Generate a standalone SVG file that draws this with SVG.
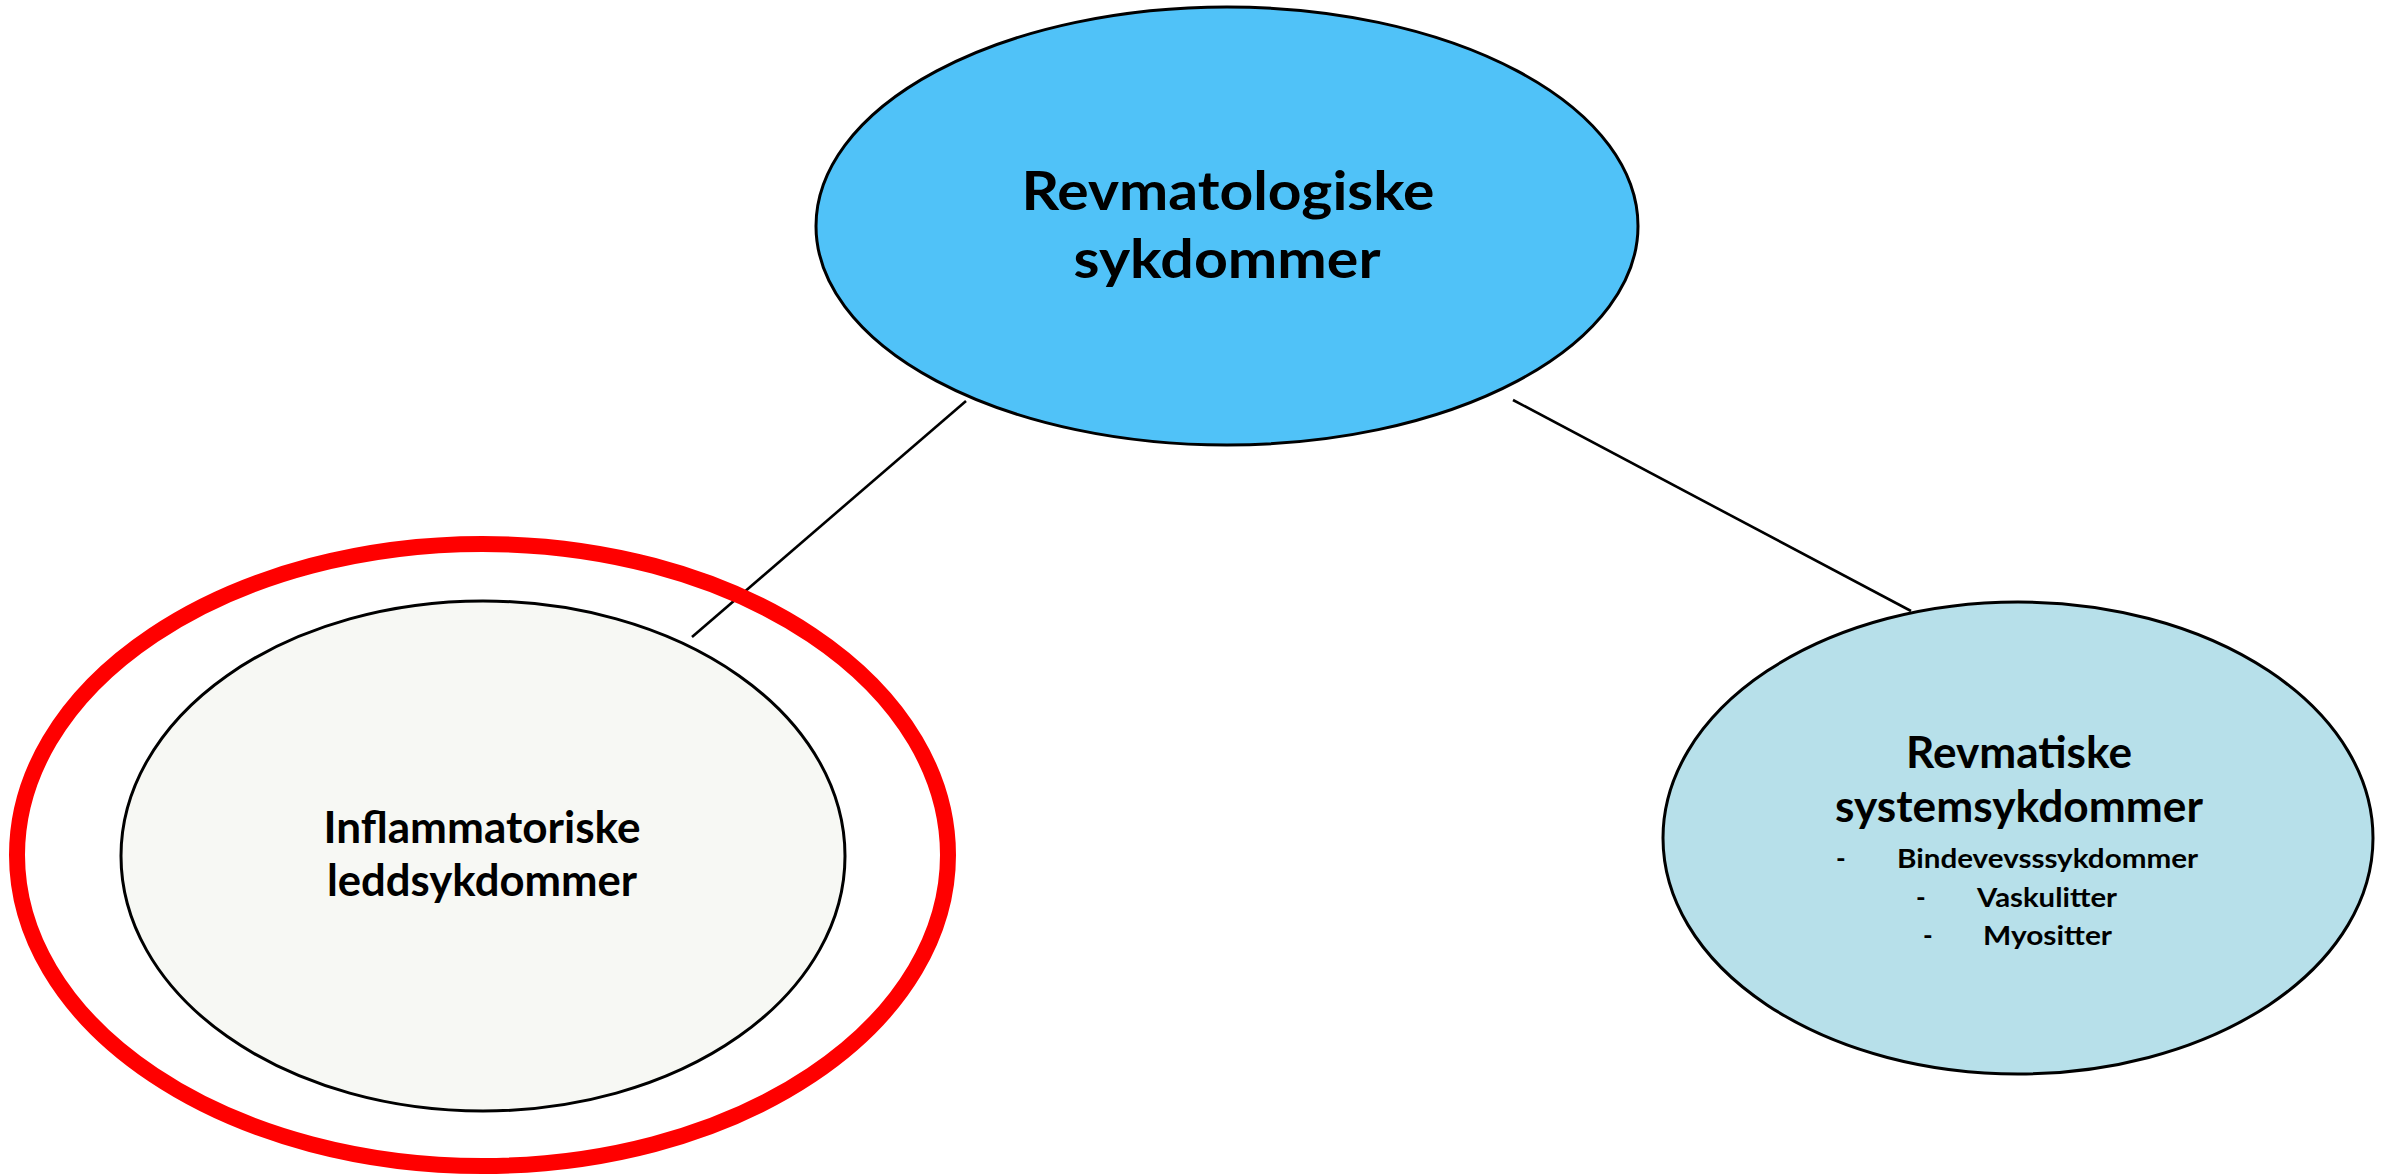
<svg xmlns="http://www.w3.org/2000/svg" width="2390" height="1175" viewBox="0 0 2390 1175">
  <style>
    .node { stroke: #000000; stroke-width: 3; }
    .conn { stroke: #000000; stroke-width: 2.6; fill: none; }
    .t { font-family: Lato, "Liberation Sans", Arial, sans-serif; font-weight: bold; fill: #000000; }
  </style>
  <rect x="0" y="0" width="2390" height="1175" fill="#FFFFFF"/>
  <g id="connectors">
    <line class="conn" x1="966" y1="401" x2="692" y2="637"/>
    <line class="conn" x1="1513" y1="400" x2="1911" y2="611"/>
  </g>
  <g id="node-revmatologiske">
    <ellipse class="node" cx="1227" cy="226" rx="411" ry="219" fill="#50C2F8"/>
    <text class="t" font-size="53" text-anchor="middle"><tspan x="1228" y="210" textLength="413" lengthAdjust="spacingAndGlyphs">Revmatologiske</tspan><tspan x="1227" y="278" textLength="307" lengthAdjust="spacingAndGlyphs">sykdommer</tspan></text>
  </g>
  <g id="node-inflammatoriske">
    <ellipse cx="482.5" cy="855" rx="465.5" ry="311" fill="none" stroke="#FF0000" stroke-width="16"/>
    <ellipse class="node" cx="483" cy="856" rx="362" ry="255" fill="#F7F8F4"/>
    <text class="t" font-size="44" text-anchor="middle"><tspan x="482" y="843" textLength="317" lengthAdjust="spacingAndGlyphs">Inflammatoriske</tspan><tspan x="482" y="896" textLength="310" lengthAdjust="spacingAndGlyphs">leddsykdommer</tspan></text>
  </g>
  <g id="node-systemsykdommer">
    <ellipse class="node" cx="2018" cy="838" rx="355" ry="236" fill="#B7E0EA"/>
    <text class="t" font-size="43" text-anchor="middle"><tspan x="2019" y="768" textLength="226" lengthAdjust="spacingAndGlyphs">Revmatiske</tspan><tspan x="2019" y="822" textLength="368" lengthAdjust="spacingAndGlyphs">systemsykdommer</tspan></text>
    <text class="t" font-size="26" x="1836" y="868">-</text>
    <text class="t" font-size="26" x="1897" y="868" textLength="301" lengthAdjust="spacingAndGlyphs">Bindevevsssykdommer</text>
    <text class="t" font-size="26" x="1916" y="907">-</text>
    <text class="t" font-size="26" x="1977" y="907" textLength="140" lengthAdjust="spacingAndGlyphs">Vaskulitter</text>
    <text class="t" font-size="26" x="1923" y="945">-</text>
    <text class="t" font-size="26" x="1983" y="945" textLength="129" lengthAdjust="spacingAndGlyphs">Myositter</text>
  </g>
</svg>
